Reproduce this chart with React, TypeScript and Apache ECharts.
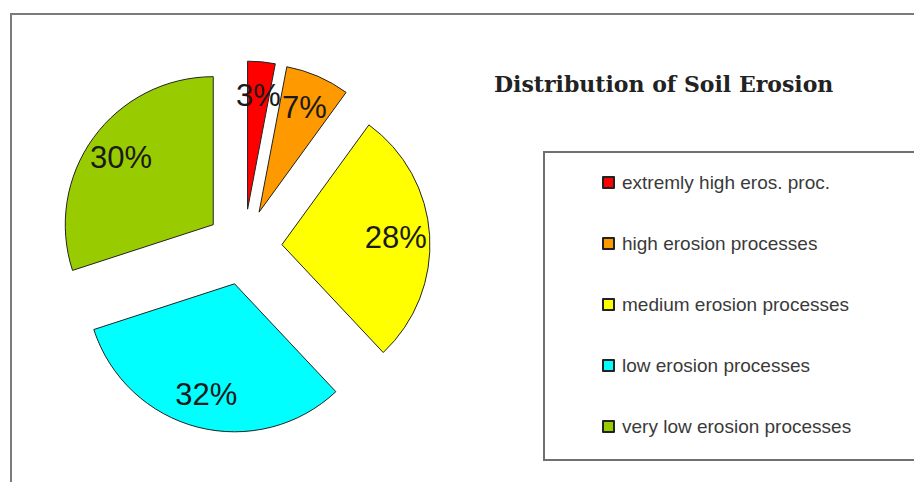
import React, { useEffect, useRef } from "react";
import * as echarts from "echarts";

const categories = [
  "extremly high eros. proc.",
  "high erosion processes",
  "medium erosion processes",
  "low erosion processes",
  "very low erosion processes",
];
const values = [3, 7, 28, 32, 30];
const colors = ["#ff0000", "#ff9900", "#ffff00", "#00ffff", "#99cc00"];
const titleText = "Distribution of Soil Erosion";

export default function App() {
  const ref = useRef<HTMLDivElement>(null);
  useEffect(() => {
    if (!ref.current) return;
    const chart = echarts.init(ref.current, undefined, { renderer: "svg" });
    const baseData = categories.map((name, i) => ({
      name,
      value: values[i],
      selected: true,
      itemStyle: { color: colors[i] },
    }));
    const labelData = categories.map((name, i) => ({
      name,
      value: values[i],
      selected: true,
      itemStyle: { color: "rgba(0,0,0,0)", borderWidth: 0 },
    }));
    chart.setOption({
      animation: false,
      backgroundColor: "#ffffff",
      title: {
        text: titleText,
        left: 494,
        top: 73,
        padding: 0,
        textStyle: {
          fontFamily: "DejaVu Serif",
          fontWeight: "bold",
          fontSize: 22,
          color: "#222222",
        },
      },
      legend: {
        orient: "vertical",
        left: 544,
        top: 152,
        padding: [21, 90, 24, 58],
        itemGap: 42,
        itemWidth: 11,
        itemHeight: 11,
        icon: "rect",
        borderColor: "#707070",
        borderWidth: 2,
        selectedMode: false,
        data: categories,
        textStyle: {
          fontFamily: "Liberation Sans",
          fontSize: 19,
          color: "#3a3a3a",
          padding: [0, 0, 0, 3],
        },
      },
      graphic: [
        {
          type: "rect",
          silent: true,
          shape: { x: 11, y: 14, width: 1200, height: 1000 },
          style: { fill: "none", stroke: "#7a7a7a", lineWidth: 2 },
          z: -10,
        },
      ],
      series: [
        {
          type: "pie",
          center: [244, 247],
          radius: [0, 148],
          startAngle: 90,
          clockwise: true,
          selectedMode: "multiple",
          selectedOffset: 38,
          avoidLabelOverlap: false,
          silent: true,
          label: { show: false },
          labelLine: { show: false },
          itemStyle: { borderColor: "#222222", borderWidth: 1 },
          emphasis: { disabled: true },
          data: baseData,
        },
        {
          type: "pie",
          center: [244, 247],
          radius: [74, 148],
          startAngle: 90,
          clockwise: true,
          selectedMode: "multiple",
          selectedOffset: 38,
          avoidLabelOverlap: false,
          minShowLabelAngle: 0,
          silent: true,
          labelLayout: { hideOverlap: false },
          label: {
            show: true,
            position: "inside",
            formatter: "{c}%",
            fontFamily: "Liberation Sans",
            fontSize: 31,
            color: "#1a1a1a",
          },
          labelLine: { show: false },
          emphasis: { disabled: true },
          data: labelData,
        },
      ],
    });
    return () => chart.dispose();
  }, []);
  return (
    <div
      ref={ref}
      style={{ position: "absolute", left: 0, top: 0, width: 914, height: 482 }}
    />
  );
}
